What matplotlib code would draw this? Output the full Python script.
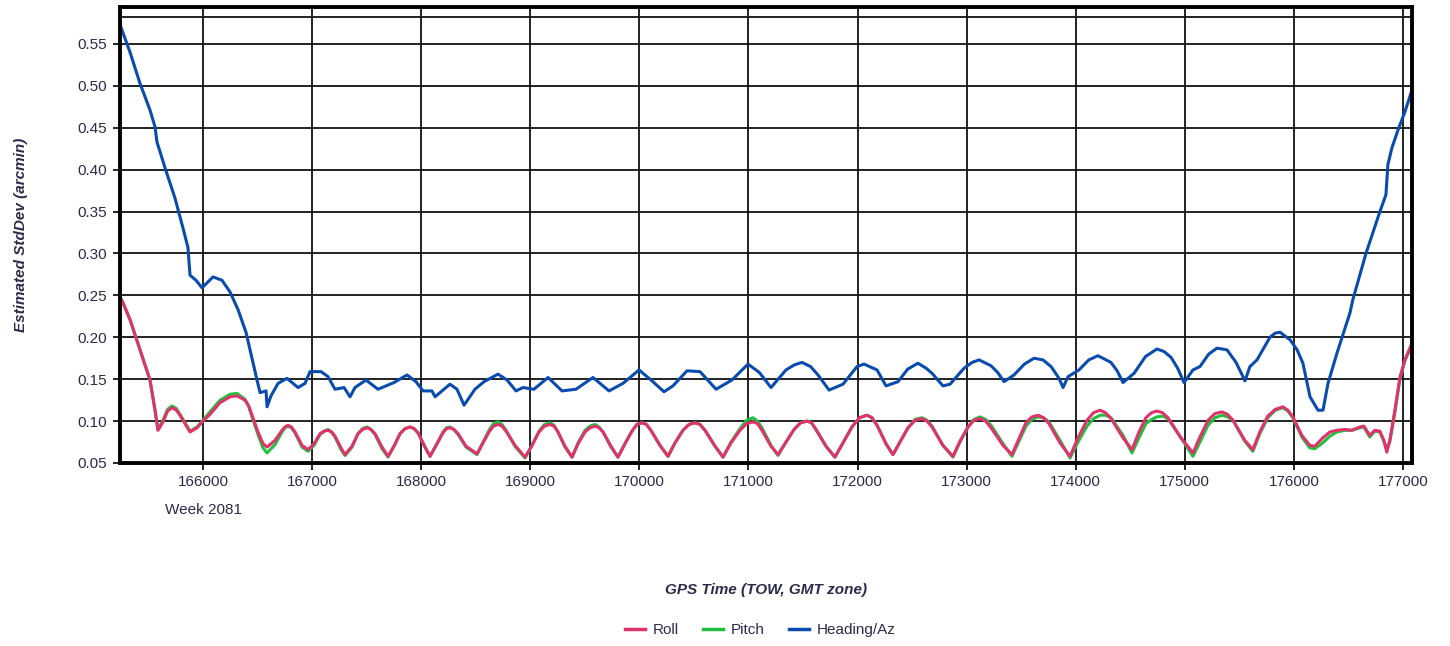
import matplotlib
matplotlib.use("Agg")
import matplotlib.pyplot as plt
from matplotlib.lines import Line2D

# GPS time of week (s) and estimated std dev (arcmin)
roll_x = [165239, 165267, 165331, 165422, 165514, 165560, 165587, 165633, 165675, 165716,
          165755, 165789, 165881, 165945, 166000, 166064, 166156, 166248, 166312, 166385,
          166420, 166449, 166504, 166550, 166587, 166660, 166724, 166752, 166779, 166810,
          166843, 166908, 166963, 167018, 167073, 167110, 167146, 167178, 167210, 167265,
          167302, 167366, 167421, 167462, 167503, 167540, 167577, 167641, 167696, 167751,
          167806, 167852, 167898, 167935, 167971, 168035, 168081, 168145, 168200, 168232,
          168264, 168300, 168338, 168411, 168512, 168567, 168622, 168663, 168704, 168741,
          168778, 168860, 168952, 169016, 169080, 169130, 169181, 169218, 169254, 169318,
          169383, 169438, 169502, 169548, 169593, 169630, 169667, 169740, 169804, 169868,
          169932, 169978, 170024, 170065, 170106, 170189, 170263, 170327, 170400, 170455,
          170510, 170556, 170602, 170694, 170767, 170840, 170923, 170983, 171042, 171083,
          171124, 171207, 171271, 171344, 171418, 171478, 171537, 171578, 171619, 171711,
          171793, 171867, 171949, 172018, 172087, 172133, 172179, 172261, 172325, 172389,
          172463, 172527, 172591, 172637, 172683, 172783, 172875, 172939, 173013, 173068,
          173123, 173174, 173224, 173334, 173416, 173480, 173544, 173599, 173654, 173705,
          173755, 173856, 173948, 174021, 174104, 174164, 174223, 174274, 174324, 174434,
          174516, 174580, 174644, 174695, 174745, 174796, 174846, 174965, 175075, 175139,
          175213, 175277, 175341, 175392, 175442, 175550, 175624, 175688, 175761, 175830,
          175899, 175945, 175991, 176073, 176146, 176192, 176265, 176330, 176394, 176468,
          176531, 176605, 176641, 176696, 176742, 176788, 176825, 176852, 176880, 176926,
          176972, 177018, 177064, 177082]
roll_y = [0.248, 0.241, 0.221, 0.185, 0.149, 0.113, 0.089, 0.099, 0.112, 0.116,
          0.113, 0.107, 0.087, 0.092, 0.100, 0.108, 0.122, 0.129, 0.130, 0.125,
          0.118, 0.107, 0.087, 0.073, 0.069, 0.077, 0.089, 0.093, 0.095, 0.093,
          0.087, 0.071, 0.066, 0.073, 0.085, 0.088, 0.089, 0.087, 0.082, 0.068,
          0.060, 0.070, 0.085, 0.090, 0.092, 0.090, 0.085, 0.069, 0.058, 0.070,
          0.085, 0.091, 0.093, 0.091, 0.086, 0.069, 0.058, 0.073, 0.086, 0.091,
          0.092, 0.090, 0.085, 0.070, 0.061, 0.074, 0.087, 0.094, 0.096, 0.094,
          0.088, 0.071, 0.057, 0.071, 0.087, 0.094, 0.096, 0.094, 0.087, 0.070,
          0.057, 0.073, 0.087, 0.092, 0.094, 0.092, 0.087, 0.070, 0.057, 0.073,
          0.088, 0.096, 0.098, 0.096, 0.089, 0.071, 0.058, 0.074, 0.089, 0.096,
          0.098, 0.096, 0.089, 0.070, 0.057, 0.074, 0.089, 0.097, 0.099, 0.097,
          0.089, 0.070, 0.060, 0.075, 0.090, 0.098, 0.100, 0.098, 0.090, 0.070,
          0.057, 0.074, 0.093, 0.104, 0.107, 0.104, 0.095, 0.073, 0.060, 0.075,
          0.092, 0.101, 0.103, 0.100, 0.093, 0.071, 0.058, 0.076, 0.093, 0.101,
          0.103, 0.100, 0.092, 0.071, 0.060, 0.079, 0.098, 0.105, 0.107, 0.104,
          0.097, 0.074, 0.058, 0.080, 0.101, 0.110, 0.113, 0.110, 0.103, 0.080,
          0.066, 0.087, 0.104, 0.110, 0.112, 0.110, 0.104, 0.080, 0.062, 0.081,
          0.101, 0.109, 0.111, 0.108, 0.101, 0.077, 0.066, 0.087, 0.106, 0.114,
          0.117, 0.113, 0.105, 0.083, 0.071, 0.070, 0.080, 0.087, 0.089, 0.090,
          0.089, 0.093, 0.094, 0.083, 0.089, 0.088, 0.077, 0.063, 0.077, 0.113,
          0.152, 0.173, 0.187, 0.193]

pitch_x = roll_x
pitch_y = [0.248, 0.241, 0.221, 0.185, 0.149, 0.113, 0.090, 0.101, 0.114, 0.118,
           0.115, 0.108, 0.088, 0.093, 0.101, 0.111, 0.125, 0.132, 0.133, 0.126,
           0.117, 0.105, 0.084, 0.068, 0.062, 0.072, 0.087, 0.092, 0.094, 0.092,
           0.086, 0.069, 0.064, 0.071, 0.084, 0.088, 0.090, 0.087, 0.081, 0.066,
           0.059, 0.069, 0.085, 0.091, 0.093, 0.090, 0.084, 0.067, 0.057, 0.070,
           0.085, 0.091, 0.093, 0.091, 0.086, 0.069, 0.058, 0.073, 0.087, 0.092,
           0.093, 0.090, 0.084, 0.069, 0.060, 0.075, 0.089, 0.097, 0.099, 0.096,
           0.089, 0.070, 0.056, 0.071, 0.088, 0.096, 0.098, 0.095, 0.087, 0.069,
           0.057, 0.074, 0.089, 0.094, 0.096, 0.093, 0.087, 0.069, 0.057, 0.073,
           0.088, 0.096, 0.098, 0.096, 0.089, 0.071, 0.058, 0.074, 0.089, 0.096,
           0.098, 0.096, 0.089, 0.070, 0.057, 0.075, 0.091, 0.101, 0.104, 0.100,
           0.092, 0.071, 0.059, 0.075, 0.090, 0.098, 0.100, 0.098, 0.090, 0.070,
           0.057, 0.074, 0.093, 0.104, 0.107, 0.104, 0.095, 0.073, 0.060, 0.075,
           0.092, 0.102, 0.104, 0.101, 0.094, 0.071, 0.057, 0.075, 0.093, 0.102,
           0.105, 0.102, 0.095, 0.073, 0.058, 0.076, 0.094, 0.102, 0.105, 0.104,
           0.099, 0.077, 0.056, 0.075, 0.094, 0.103, 0.107, 0.107, 0.104, 0.083,
           0.062, 0.080, 0.097, 0.102, 0.105, 0.106, 0.103, 0.080, 0.058, 0.075,
           0.095, 0.104, 0.107, 0.105, 0.101, 0.076, 0.064, 0.085, 0.104, 0.113,
           0.116, 0.112, 0.104, 0.081, 0.068, 0.067, 0.074, 0.082, 0.087, 0.089,
           0.089, 0.092, 0.093, 0.081, 0.088, 0.087, 0.076, 0.066, 0.076, 0.110,
           0.150, 0.172, 0.186, 0.192]

heading_x = [165239, 165331, 165422, 165514, 165560, 165578, 165652, 165743, 165817, 165862,
             165881, 165936, 165991, 166046, 166092, 166174, 166248, 166321, 166394, 166449,
             166495, 166523, 166578, 166587, 166623, 166688, 166770, 166871, 166935, 166981,
             167082, 167146, 167210, 167293, 167348, 167393, 167494, 167604, 167751, 167870,
             167953, 168017, 168099, 168127, 168264, 168328, 168393, 168493, 168576, 168704,
             168787, 168869, 168933, 169034, 169163, 169291, 169419, 169575, 169722, 169850,
             169997, 170107, 170226, 170308, 170437, 170556, 170703, 170849, 170996, 171100,
             171207, 171344, 171420, 171491, 171570, 171638, 171739, 171867, 171995, 172059,
             172179, 172261, 172371, 172460, 172554, 172630, 172683, 172783, 172848, 172976,
             173050, 173114, 173224, 173285, 173343, 173434, 173530, 173618, 173700, 173775,
             173847, 173884, 173930, 174030, 174120, 174204, 174323, 174380, 174434, 174535,
             174640, 174745, 174810, 174874, 174935, 174993, 175075, 175139, 175220, 175295,
             175387, 175470, 175552, 175597, 175662, 175781, 175830, 175873, 175965, 176030,
             176083, 176148, 176221, 176267, 176313, 176395, 176514, 176541, 176661, 176789,
             176844, 176862, 176899, 176954, 177018, 177083]
heading_y = [0.573, 0.540, 0.503, 0.471, 0.451, 0.433, 0.402, 0.366, 0.330, 0.307,
             0.274, 0.268, 0.259, 0.266, 0.272, 0.268, 0.254, 0.233, 0.206, 0.175,
             0.149, 0.134, 0.136, 0.117, 0.130, 0.145, 0.151, 0.140, 0.145, 0.159,
             0.159, 0.153, 0.138, 0.140, 0.129, 0.140, 0.149, 0.138, 0.146, 0.155,
             0.147, 0.136, 0.136, 0.129, 0.144, 0.138, 0.119, 0.138, 0.147, 0.156,
             0.149, 0.136, 0.140, 0.138, 0.152, 0.136, 0.138, 0.152, 0.136, 0.145,
             0.161, 0.149, 0.135, 0.142, 0.160, 0.159, 0.138, 0.149, 0.168, 0.158,
             0.140, 0.161, 0.167, 0.170, 0.165, 0.155, 0.137, 0.144, 0.165, 0.168,
             0.161, 0.142, 0.147, 0.162, 0.169, 0.163, 0.157, 0.142, 0.144, 0.163,
             0.170, 0.173, 0.166, 0.158, 0.147, 0.155, 0.168, 0.175, 0.173, 0.165,
             0.151, 0.140, 0.153, 0.161, 0.173, 0.178, 0.170, 0.160, 0.146, 0.157,
             0.177, 0.186, 0.183, 0.176, 0.163, 0.146, 0.161, 0.165, 0.180, 0.187,
             0.185, 0.170, 0.148, 0.165, 0.173, 0.200, 0.205, 0.206, 0.197, 0.185,
             0.169, 0.129, 0.113, 0.113, 0.145, 0.181, 0.229, 0.245, 0.300, 0.350,
             0.370, 0.406, 0.426, 0.447, 0.469, 0.495]

x_ticks = [166000, 167000, 168000, 169000, 170000, 171000, 172000,
           173000, 174000, 175000, 176000, 177000]
y_ticks = [0.05, 0.10, 0.15, 0.20, 0.25, 0.30, 0.35, 0.40, 0.45, 0.50, 0.55]

roll_color = "#e0336b"
pitch_color = "#22c040"
heading_color = "#0a4cae"
text_color = "#2b2b4a"

plt.rcParams['font.family'] = ['Liberation Sans', 'DejaVu Sans']

fig = plt.figure(figsize=(14.5, 6.46), dpi=100)
ax = fig.add_axes([120 / 1450, 1 - 463 / 646, 1292 / 1450, 456 / 646])

ax.plot(pitch_x, pitch_y, color=pitch_color, lw=2.2, solid_joinstyle='round')
ax.plot(roll_x, roll_y, color=roll_color, lw=2.2, solid_joinstyle='round')
ax.plot(heading_x, heading_y, color=heading_color, lw=2.2, solid_joinstyle='round')

ax.set_xlim(165239, 177083)
ax.set_ylim(0.05, 0.594)
ax.set_xticks(x_ticks)
ax.set_xticklabels([str(t) for t in x_ticks])
ax.set_yticks(y_ticks)
ax.set_yticklabels([f"{t:.2f}" for t in y_ticks])
ax.tick_params(axis='both', labelsize=11, labelcolor=text_color, length=5, width=1.2,
               direction='out', pad=4)

ax.grid(True, color='#111111', lw=1.3)
ax.axhline(0.582, color='#111111', lw=1.3)
ax.set_axisbelow(True)
for side in ax.spines.values():
    side.set_linewidth(2.8)
    side.set_color('black')

ax.text(166000, -0.087, "Week 2081", transform=ax.get_xaxis_transform(),
        ha='center', va='top', fontsize=11, color=text_color)

ax.set_ylabel("Estimated StdDev (arcmin)", fontsize=11, fontweight='bold',
              fontstyle='italic', color=text_color, labelpad=36)
fig.text(766 / 1450, 1 - 590 / 646, "GPS Time (TOW, GMT zone)", ha='center',
         va='center', fontsize=11, fontweight='bold', fontstyle='italic', color=text_color)

handles = [Line2D([], [], color=roll_color, lw=2.5),
           Line2D([], [], color=pitch_color, lw=2.5),
           Line2D([], [], color=heading_color, lw=2.5)]
fig.legend(handles, ["Roll", "Pitch", "Heading/Az"], loc='center',
           bbox_to_anchor=(760 / 1450, 1 - 630 / 646), ncol=3, frameon=False,
           fontsize=11, handlelength=1.3, handletextpad=0.5, columnspacing=1.6,
           labelcolor=text_color)

fig.savefig("out.png", dpi=100)
